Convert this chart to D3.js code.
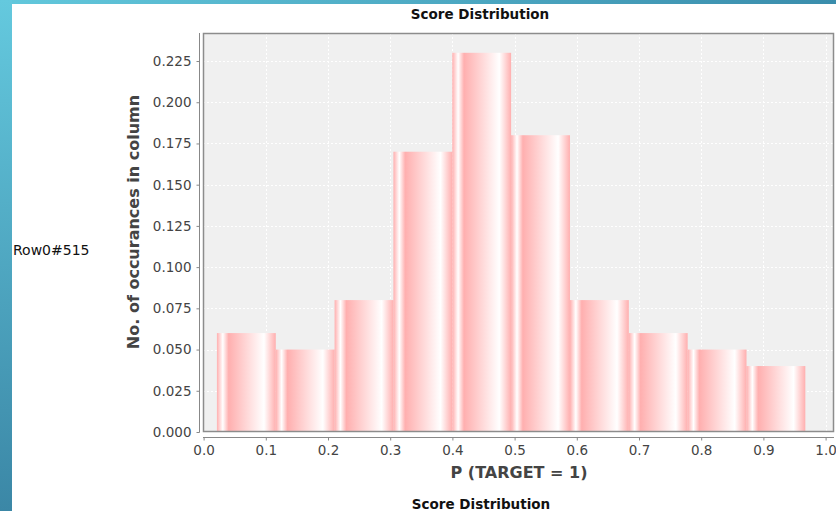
<!DOCTYPE html>
<html>
<head>
<meta charset="utf-8">
<script src="https://cdn.jsdelivr.net/npm/d3@7"></script>
<style>
  html, body { margin: 0; padding: 0; background: #fff; }
  svg { display: block; }
</style>
</head>
<body>
<svg id="chart" width="836" height="511"></svg>
<script>
// Histogram of predicted probabilities: bin left edges, common bin width, and relative frequency
const binStarts = [0.0214, 0.1160, 0.2106, 0.3052, 0.3998, 0.4944, 0.5890, 0.6836, 0.7782, 0.8728];
const binWidth = 0.0946;
const frequencies = [0.06, 0.05, 0.08, 0.17, 0.23, 0.18, 0.08, 0.06, 0.05, 0.04];
const xTicks = [0.0, 0.1, 0.2, 0.3, 0.4, 0.5, 0.6, 0.7, 0.8, 0.9, 1.0];
const yTicks = [0.000, 0.025, 0.050, 0.075, 0.100, 0.125, 0.150, 0.175, 0.200, 0.225];
const chartTitle = "Score Distribution";
const xLabel = "P (TARGET = 1)";
const yLabel = "No. of occurances in column";
const rowLabel = "Row0#515";

const W = 836, H = 511;
const svg = d3.select("#chart");
const defs = svg.append("defs");

// frame decoration: blue strips along the left and top edges
const gLeft = defs.append("linearGradient").attr("id", "edgeLeft")
  .attr("x1", 0).attr("y1", 0).attr("x2", 0).attr("y2", 1);
gLeft.append("stop").attr("offset", 0).attr("stop-color", "#64c9de");
gLeft.append("stop").attr("offset", 1).attr("stop-color", "#3b87a6");
const gTop = defs.append("linearGradient").attr("id", "edgeTop")
  .attr("x1", 0).attr("y1", 0).attr("x2", 1).attr("y2", 0);
gTop.append("stop").attr("offset", 0).attr("stop-color", "#62c8dc");
gTop.append("stop").attr("offset", 1).attr("stop-color", "#3a8dac");

// bar painter: pink -> white -> pink -> white -> pink across each bar
const barBase = "rgb(255,175,175)";
const gBar = defs.append("linearGradient").attr("id", "barPaint")
  .attr("x1", 0).attr("y1", 0).attr("x2", 1).attr("y2", 0);
[[0, barBase], [0.10, "#ffffff"], [0.20, barBase], [0.80, "#ffffff"], [1, barBase]]
  .forEach(([o, c]) => gBar.append("stop").attr("offset", o).attr("stop-color", c));

svg.append("rect").attr("x", 0).attr("y", 0).attr("width", W).attr("height", H).attr("fill", "#ffffff");
svg.append("rect").attr("x", 0).attr("y", 0).attr("width", W).attr("height", 4).attr("fill", "url(#edgeTop)");
svg.append("rect").attr("x", 0).attr("y", 0).attr("width", 12).attr("height", H).attr("fill", "url(#edgeLeft)");

// plot region
const plot = { left: 203, right: 834, top: 33, bottom: 432 };
const x = d3.scaleLinear().domain([0, 1.0135]).range([203.6, plot.right]);
const y = d3.scaleLinear().domain([0, 0.242]).range([plot.bottom, plot.top]);

svg.append("rect")
  .attr("x", plot.left).attr("y", plot.top)
  .attr("width", plot.right - plot.left).attr("height", plot.bottom - plot.top)
  .attr("fill", "#f0f0f0");

// dashed white gridlines
const grid = svg.append("g").attr("stroke", "#ffffff").attr("stroke-width", 1).attr("stroke-dasharray", "2,2");
grid.selectAll("line.gy").data(yTicks.slice(1)).join("line")
  .attr("x1", plot.left).attr("x2", plot.right)
  .attr("y1", d => Math.round(y(d)) + 0.5).attr("y2", d => Math.round(y(d)) + 0.5);
grid.selectAll("line.gx").data(xTicks.slice(1)).join("line")
  .attr("y1", plot.top).attr("y2", plot.bottom)
  .attr("x1", d => Math.round(x(d)) + 0.5).attr("x2", d => Math.round(x(d)) + 0.5);

// bars
svg.append("g").selectAll("rect").data(frequencies).join("rect")
  .attr("x", (d, i) => x(binStarts[i]))
  .attr("width", (d, i) => x(binStarts[i] + binWidth) - x(binStarts[i]))
  .attr("y", d => y(d))
  .attr("height", d => y(0) - y(d))
  .attr("fill", "url(#barPaint)");

// plot outline
svg.append("rect")
  .attr("x", plot.left + 0.5).attr("y", plot.top + 0.5)
  .attr("width", plot.right - plot.left - 1).attr("height", plot.bottom - plot.top - 1)
  .attr("fill", "none").attr("stroke", "#8c8c8c").attr("stroke-width", 1.5);

const tickColor = "#444444";
const font = "'DejaVu Sans', sans-serif";

// y axis, offset to the left of the plot
const yAxis = d3.axisLeft(y).tickValues(yTicks).tickFormat(d3.format(".3f")).tickSize(3).tickPadding(5);
const gy = svg.append("g").attr("transform", "translate(199.5,0)").call(yAxis);
gy.select(".domain").attr("stroke", "#888").attr("d", `M0,${plot.top}V${plot.bottom + 0.5}`);
gy.selectAll(".tick line").attr("stroke", "#888");
gy.selectAll(".tick text").attr("fill", tickColor).style("font", `13.5px ${font}`);

// x axis, offset below the plot
const xAxis = d3.axisBottom(x).tickValues(xTicks).tickFormat(d3.format(".1f")).tickSize(3).tickPadding(5);
const gx = svg.append("g").attr("transform", "translate(0,437.5)").call(xAxis);
gx.select(".domain").attr("stroke", "#888").attr("d", `M${plot.left},0H${plot.right}`);
gx.selectAll(".tick line").attr("stroke", "#888");
gx.selectAll(".tick text").attr("fill", tickColor).style("font", `13.5px ${font}`);

// titles and labels
svg.append("text").attr("x", 480).attr("y", 19).attr("text-anchor", "middle")
  .attr("fill", "#111").style("font", `bold 13.5px ${font}`).text(chartTitle);
svg.append("text").attr("x", 481).attr("y", 509).attr("text-anchor", "middle")
  .attr("fill", "#111").style("font", `bold 13.5px ${font}`).text(chartTitle);
svg.append("text").attr("x", 519).attr("y", 478).attr("text-anchor", "middle")
  .attr("fill", tickColor).style("font", `bold 16px ${font}`).text(xLabel);
svg.append("text").attr("transform", "translate(139,222) rotate(-90)").attr("text-anchor", "middle")
  .attr("fill", tickColor).style("font", `bold 16px ${font}`).text(yLabel);
svg.append("text").attr("x", 13).attr("y", 255)
  .attr("fill", "#111").style("font", `14px ${font}`).text(rowLabel);
</script>
</body>
</html>
